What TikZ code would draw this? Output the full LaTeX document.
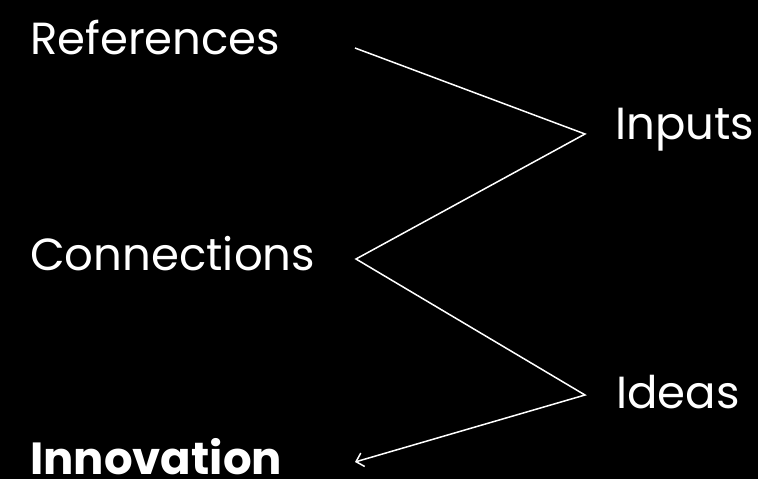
\documentclass[tikz,border=0pt]{standalone}
\usepackage{fontspec}
\setmainfont{Poppins}
\usepackage{tikz}
\usetikzlibrary{arrows.meta, positioning}
\tikzset{
	x=1pt, y=-1pt, % one unit per pixel, y pointing down
	word/.style={text=white, anchor=base west, inner sep=0pt, font=\fontsize{45}{54}\selectfont}, % the labels
	zig/.style={draw=white, line width=1.5pt, line join=miter}, % the zigzag line
	>={Straight Barb[length=7pt, width=14pt]}, % open arrow head
}

\begin{document}
\begin{tikzpicture}
	\fill[black] (0,0) rectangle (758,479);
	\useasboundingbox (0,0) rectangle (758,479);
			\node[word] at (30, 54) (refs) {References};
			\node[word] at (615, 139) (inputs) {Inputs};
			\node[word] at (30, 270) (conns) {Connections};
			\node[word] at (616, 408) (ideas) {Ideas};
			\node[word, font=\fontsize{45}{54}\selectfont\bfseries] at (30, 474) (innov) {Innovation};
			\coordinate (a) at (355, 48);
			\coordinate (b) at (585, 134);
			\coordinate (c) at (356, 259);
			\coordinate (d) at (585, 395);
			\coordinate (e) at (355, 462);
	\draw[zig, ->] (a) -- (b) -- (c) -- (d) -- (e);
	\end{tikzpicture}
\end{document}
